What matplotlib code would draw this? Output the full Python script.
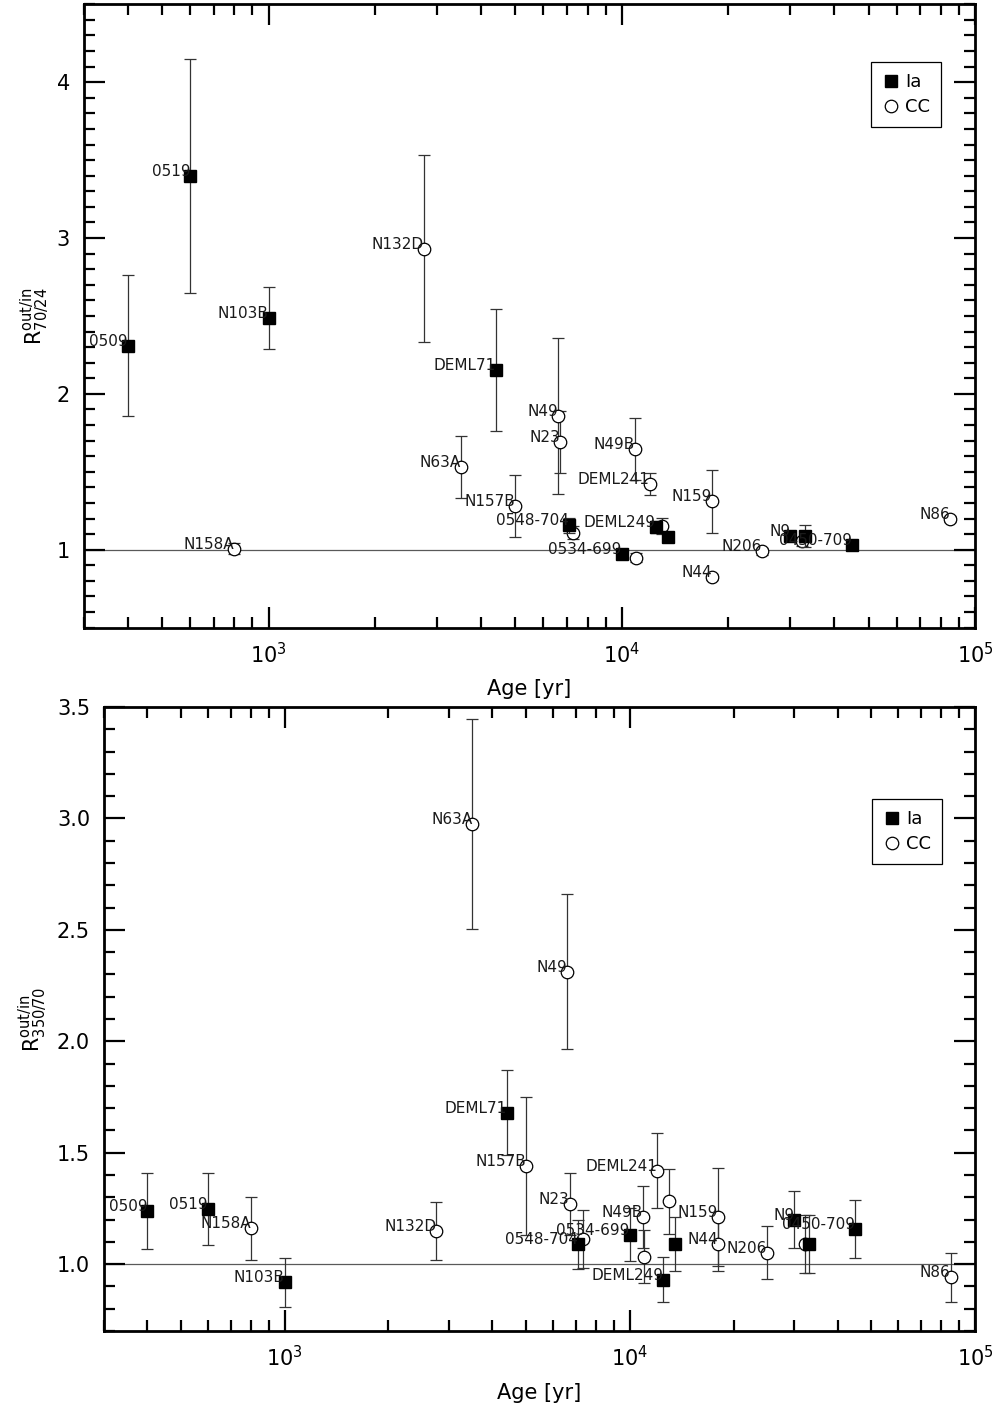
import numpy as np
import matplotlib.pyplot as plt
from matplotlib.lines import Line2D
from matplotlib.ticker import LogLocator, MultipleLocator, NullFormatter

# SNR names ('' = unlabeled point), type and age in yr
names = ['0509', '0519', 'N103B', 'N158A', 'N132D', 'N63A', 'DEML71', 'N157B',
         'N49', 'N23', '0548-704', '', '0534-699', 'N49B', '', 'DEML241',
         'DEML249', '', '', 'N159', 'N44', 'N206', 'N9', '', '', '0450-709', 'N86']
types = ['Ia', 'Ia', 'Ia', 'CC', 'CC', 'CC', 'Ia', 'CC',
         'CC', 'CC', 'Ia', 'CC', 'Ia', 'CC', 'CC', 'CC',
         'Ia', 'CC', 'Ia', 'CC', 'CC', 'CC', 'Ia', 'Ia', 'CC', 'Ia', 'CC']
age = [400, 600, 1000, 800, 2750, 3500, 4400, 5000,
       6600, 6700, 7100, 7300, 10000, 10900, 11000, 12000,
       12500, 13000, 13500, 18000, 18000, 25000, 30000, 33000, 32300, 45000, 85000]

# R(out/in) 70/24
r70_24 = [2.31, 3.40, 2.485, 1.005, 2.93, 1.53, 2.152, 1.28,
          1.857, 1.69, 1.156, 1.109, 0.97, 1.647, 0.949, 1.419,
          1.145, 1.152, 1.081, 1.31, 0.825, 0.989, 1.088, 1.088, 1.053, 1.028, 1.199]
r70_24_err = [0.45, 0.75, 0.2, 0.035, 0.6, 0.2, 0.39, 0.2,
              0.5, 0.2, 0.05, 0.04, 0.02, 0.2, 0.03, 0.07,
              0.04, 0.05, 0.02, 0.2, 0.02, 0.025, 0.02, 0.07, 0.03, 0.02, 0.02]

# R(out/in) 350/70
r350_70 = [1.238, 1.247, 0.918, 1.16, 1.15, 2.974, 1.679, 1.442,
           2.313, 1.271, 1.09, 1.112, 1.132, 1.211, 1.034, 1.42,
           0.93, 1.282, 1.09, 1.213, 1.09, 1.052, 1.2, 1.09, 1.09, 1.157, 0.94]
r350_70_err = [0.17, 0.16, 0.11, 0.14, 0.13, 0.47, 0.19, 0.31,
               0.35, 0.14, 0.11, 0.13, 0.12, 0.14, 0.12, 0.17,
               0.1, 0.145, 0.12, 0.22, 0.12, 0.12, 0.13, 0.13, 0.13, 0.13, 0.11]

plt.rcParams['font.family'] = 'DejaVu Sans'

fig = plt.figure(figsize=(10.03, 14.12), dpi=100)
ax1 = fig.add_axes([0.0837, 0.5555, 0.8883, 0.4415])
ax2 = fig.add_axes([0.1037, 0.0574, 0.8683, 0.4419])


def draw_panel(ax, vals, errs, ylim, ymajor, ylabel, leg_anchor, ylpad):
    age_a = np.array(age, dtype=float)
    vals = np.array(vals)
    errs = np.array(errs)
    cc = np.array([t == 'CC' for t in types])
    ia = ~cc

    ax.axhline(1.0, color='0.35', lw=0.9, zorder=1)
    ax.errorbar(age_a[cc], vals[cc], yerr=errs[cc], fmt='o', ms=9, mfc='white',
                mec='black', mew=0.9, ecolor='0.2', elinewidth=0.9, capsize=4,
                capthick=0.9, zorder=2)
    ax.errorbar(age_a[ia], vals[ia], yerr=errs[ia], fmt='s', ms=9, mfc='black',
                mec='black', ecolor='0.2', elinewidth=0.9, capsize=4,
                capthick=0.9, zorder=3)

    for n, x, y in zip(names, age_a, vals):
        if n:
            ax.text(x, y, n, ha='right', va='baseline', fontsize=11,
                    color='0.1', clip_on=True, zorder=4)

    ax.set_xscale('log')
    ax.set_xlim(300, 1e5)
    ax.set_ylim(*ylim)
    ax.xaxis.set_major_locator(LogLocator(base=10, numticks=10))
    ax.xaxis.set_minor_locator(LogLocator(base=10, subs=np.arange(2, 10), numticks=20))
    ax.xaxis.set_minor_formatter(NullFormatter())
    ax.yaxis.set_major_locator(MultipleLocator(ymajor))
    ax.yaxis.set_minor_locator(MultipleLocator(0.1))
    ax.tick_params(which='both', direction='in', top=True, right=True,
                   labelsize=15, width=1.6, pad=10)
    ax.tick_params(which='major', length=15)
    ax.tick_params(which='minor', length=8)
    for s in ax.spines.values():
        s.set_linewidth(2)

    ax.set_xlabel('Age [yr]', fontsize=15, labelpad=9)
    ax.set_ylabel(ylabel, fontsize=15, labelpad=ylpad)

    handles = [Line2D([], [], ls='none', marker='s', ms=9, mfc='black', mec='black'),
               Line2D([], [], ls='none', marker='o', ms=9, mfc='white', mec='black', mew=0.9)]
    leg = ax.legend(handles, ['Ia', 'CC'], loc='upper right', bbox_to_anchor=leg_anchor,
                    borderaxespad=0, fancybox=False, framealpha=1, edgecolor='black',
                    fontsize=13, handletextpad=0.3, handlelength=1.0, borderpad=0.6,
                    labelspacing=0.4)
    leg.get_frame().set_linewidth(0.9)


draw_panel(ax1, r70_24, r70_24_err, (0.5, 4.5), 1,
           r'$\mathrm{R}^{\rm out/in}_{70/24}$', (0.962, 0.907), 4)
draw_panel(ax2, r350_70, r350_70_err, (0.7, 3.5), 0.5,
           r'$\mathrm{R}^{\rm out/in}_{350/70}$', (0.962, 0.852), 6)
ax2.yaxis.set_major_formatter(plt.FormatStrFormatter('%.1f'))
ax1.yaxis.set_major_formatter(plt.FormatStrFormatter('%d'))

fig.savefig('out.png', dpi=100)
